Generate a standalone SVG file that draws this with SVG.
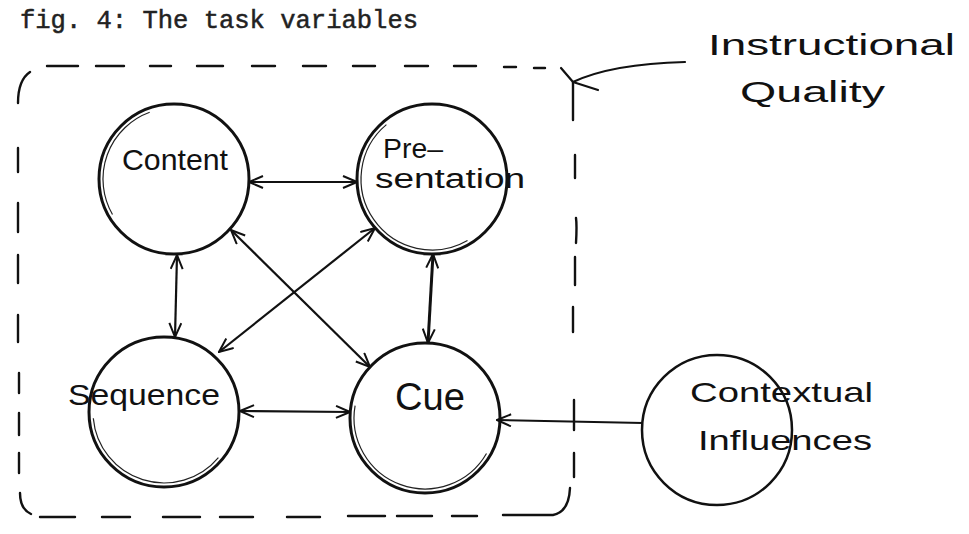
<svg xmlns="http://www.w3.org/2000/svg" width="969" height="534" viewBox="0 0 969 534">
<defs>
<style>
.bg{fill:#fff}
.title{font-family:"Liberation Mono","DejaVu Sans Mono",monospace;font-size:26px;fill:#222;stroke:#222;stroke-width:0.5}
.hand{font-family:"Liberation Sans","DejaVu Sans",sans-serif;fill:#111}
.node{fill:none;stroke:#111;stroke-width:3}
.inner{fill:none;stroke:#222;stroke-width:1.2}
.ctx{fill:none;stroke:#111;stroke-width:2.5}
.conn{fill:none;stroke:#111;stroke-width:2.2;marker-start:url(#ah);marker-end:url(#ah)}
.conn1{fill:none;stroke:#111;stroke-width:2.2;marker-end:url(#ah)}
.dash{fill:none;stroke:#111;stroke-width:2.4;stroke-linecap:round}
.pen{fill:none;stroke:#111;stroke-width:2.2;stroke-linecap:round;stroke-linejoin:round}
</style>
<marker id="ah" viewBox="0 0 16 14" refX="15" refY="7" markerWidth="16" markerHeight="14" markerUnits="userSpaceOnUse" orient="auto-start-reverse">
<path d="M1,1 L15,7 L1,13" fill="none" stroke="#111" stroke-width="2"/>
</marker>
</defs>
<rect class="bg" x="0" y="0" width="969" height="534"/>
<text class="title" x="20" y="28" textLength="398" lengthAdjust="spacingAndGlyphs">fig. 4: The task variables</text>

<g id="boundary">
<path class="dash" d="M47,66 H78 M96,66 H124 M150,66 H171 M197,66 H223 M252,66 H275 M303,66 H326 M353,66 H375 M405,66 H428 M454,66 H476 M504,67 H516 M534,68 H545"/>
<path class="dash" d="M30,72 Q18,80 18,103 M18,148 V172 M18,203 V232 M18,255 V283 M18,315 V342 M19,373 V393 M19,413 V435 M19,453 V473 M20,493 Q20,509 31,514"/>
<path class="dash" d="M40,517 H75 M102,517 H130 M163,517 H200 M220,517 H253 M287,517 H320 M348,516 H385 M397,516 H432 M452,516 H477 M503,515 H553 Q569,512 570,488"/>
<path class="dash" d="M573,82 V120 M575,155 V178 M576,218 Q577,225 576,243 M575,257 V285 M573,307 V332 M574,400 V430 M574,453 V477"/>
</g>

<g id="label-instructional">
<path class="pen" d="M685,62 C645,63 605,67 573,82 M561,68 L573,82 L598,90"/>
<text class="hand" x="708" y="55" font-size="30" textLength="247" lengthAdjust="spacingAndGlyphs">Instructional</text>
<text class="hand" x="740" y="102" font-size="30" textLength="145" lengthAdjust="spacingAndGlyphs">Quality</text>
</g>

<g id="connectors">
<line class="conn" x1="249" y1="182" x2="357" y2="182"/>
<line class="conn" x1="177" y1="255" x2="175" y2="337"/>
<line class="conn" x1="433" y1="254" x2="428" y2="343" style="stroke-width:3"/>
<line class="conn" x1="240" y1="411" x2="350" y2="412"/>
<line class="conn" x1="231" y1="230" x2="370" y2="367"/>
<line class="conn" x1="375" y1="228" x2="219" y2="352"/>
<line class="conn1" x1="643" y1="423" x2="497" y2="420"/>
</g>

<g id="node-content">
<circle class="node" cx="174" cy="179" r="75"/>
<path class="inner" d="M149.7,112.3 A71,71 0 0 0 112.5,214.5"/>
<text class="hand" x="122" y="170" font-size="29" textLength="106" lengthAdjust="spacingAndGlyphs">Content</text>
</g>

<g id="node-presentation">
<circle class="node" cx="432" cy="179" r="75"/>
<path class="inner" d="M386.4,124.6 A71,71 0 0 0 467.5,240.5"/>
<text class="hand" x="383" y="158" font-size="28" textLength="60" lengthAdjust="spacingAndGlyphs">Pre–</text>
<text class="hand" x="375" y="188" font-size="27" textLength="150" lengthAdjust="spacingAndGlyphs">sentation</text>
</g>

<g id="node-sequence">
<circle class="node" cx="164" cy="412" r="75"/>
<path class="inner" d="M93.3,418.2 A71,71 0 0 0 218.4,457.6"/>
<text class="hand" x="68" y="405" font-size="30" textLength="152" lengthAdjust="spacingAndGlyphs">Sequence</text>
</g>

<g id="node-cue">
<circle class="node" cx="425" cy="418" r="75"/>
<path class="inner" d="M355.1,405.7 A71,71 0 0 0 486.5,453.5"/>
<text class="hand" x="395" y="410" font-size="38" textLength="70" lengthAdjust="spacingAndGlyphs">Cue</text>
</g>

<g id="node-contextual">
<circle class="ctx" cx="717" cy="430" r="75"/>
<text class="hand" x="690" y="402" font-size="28" textLength="183" lengthAdjust="spacingAndGlyphs">Contextual</text>
<text class="hand" x="698" y="450" font-size="28" textLength="174" lengthAdjust="spacingAndGlyphs">Influences</text>
</g>
</svg>
